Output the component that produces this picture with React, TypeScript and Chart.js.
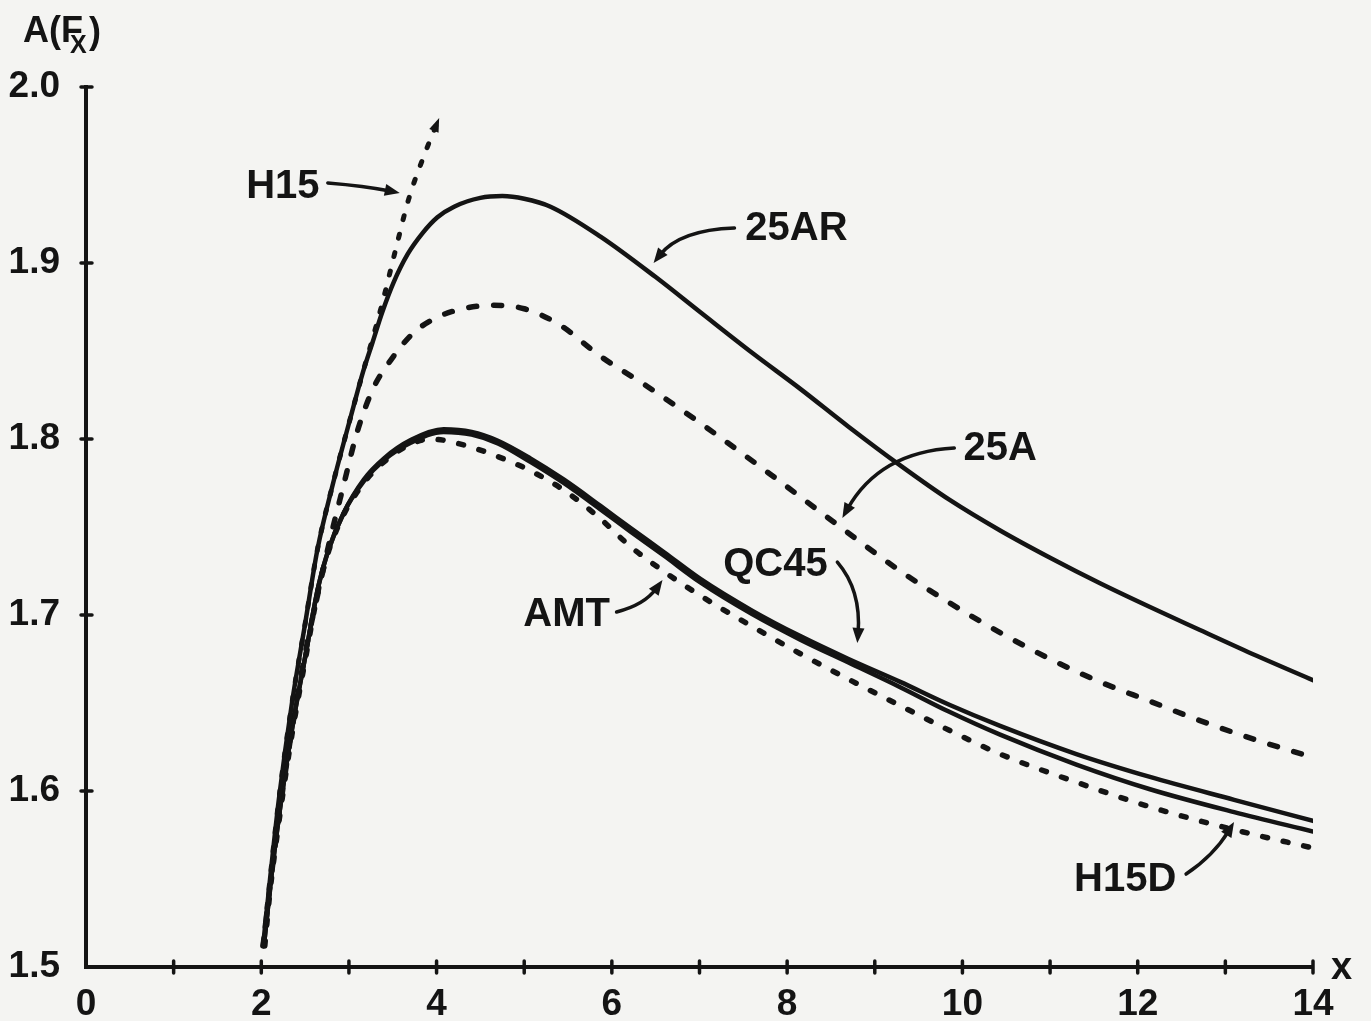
import { useEffect, useRef } from "react";
import { Chart, registerables } from "chart.js";

Chart.register(...registerables);

// ---------- data ----------
const yTickValues = [1.5, 1.6, 1.7, 1.8, 1.9, 2.0];
const xTickLabels = ["0", "2", "4", "6", "8", "10", "12", "14"];

const x25AR = [2.02, 2.1, 2.2, 2.35, 2.5, 2.64, 2.82, 3.02, 3.16, 3.27, 3.38, 3.51, 3.67, 3.84, 4.01, 4.2, 4.5, 4.75, 5.0, 5.3, 5.87, 6.5, 7.01, 7.6, 8.15, 8.7, 9.29, 9.85, 10.43, 11.0, 11.57, 12.14, 12.71, 13.35, 14.0];
const y25AR = [1.512, 1.55, 1.595, 1.65, 1.695, 1.737, 1.775, 1.8125, 1.838, 1.855, 1.872, 1.889, 1.905, 1.917, 1.926, 1.932, 1.937, 1.938, 1.9365, 1.932, 1.915, 1.892, 1.872, 1.849, 1.8285, 1.807, 1.785, 1.7655, 1.748, 1.7325, 1.718, 1.7045, 1.6915, 1.677, 1.663];

const xH15 = [2.02, 2.1, 2.2, 2.35, 2.5, 2.64, 2.82, 3.02, 3.16, 3.27, 3.38, 3.53, 3.68, 3.88, 4.01];
const yH15 = [1.512, 1.55, 1.595, 1.65, 1.695, 1.737, 1.775, 1.8125, 1.838, 1.857, 1.877, 1.907, 1.936, 1.964, 1.98];

const x25A = [2.02, 2.1, 2.2, 2.35, 2.5, 2.65, 2.78, 2.93, 3.1, 3.28, 3.48, 3.73, 4.0, 4.3, 4.65, 5.0, 5.4, 5.87, 6.4, 7.01, 7.78, 8.5, 9.29, 9.85, 10.43, 11.0, 11.57, 12.14, 12.71, 13.35, 14.0];
const y25A = [1.512, 1.546, 1.585, 1.635, 1.678, 1.713, 1.742, 1.772, 1.805, 1.829, 1.845, 1.86, 1.869, 1.874, 1.876, 1.874, 1.865, 1.847, 1.83, 1.809, 1.781, 1.754, 1.725, 1.707, 1.69, 1.675, 1.662, 1.651, 1.64, 1.629, 1.619];

const xLower = [2.03, 2.1, 2.2, 2.35, 2.5, 2.65, 2.76, 2.94, 3.17, 3.4, 3.71, 4.08, 4.4, 4.7, 5.07, 5.45, 5.87, 6.21, 6.6, 7.01, 7.6, 8.15, 8.7, 9.29, 9.85, 10.43, 11.3, 12.14, 13.1, 14.0];
const yQC45 = [1.512, 1.545, 1.585, 1.635, 1.676, 1.716, 1.736, 1.758, 1.777, 1.789, 1.7995, 1.8055, 1.804, 1.799, 1.789, 1.777, 1.762, 1.7495, 1.7355, 1.7205, 1.7025, 1.688, 1.675, 1.662, 1.649, 1.637, 1.621, 1.608, 1.595, 1.583];
const yH15D = [1.512, 1.545, 1.585, 1.635, 1.676, 1.716, 1.736, 1.758, 1.776, 1.788, 1.798, 1.804, 1.8025, 1.7975, 1.787, 1.775, 1.76, 1.7475, 1.7335, 1.7185, 1.7005, 1.686, 1.673, 1.659, 1.645, 1.632, 1.615, 1.601, 1.588, 1.577];

const xAMT = [2.04, 2.1, 2.2, 2.35, 2.5, 2.65, 2.76, 2.94, 3.17, 3.4, 3.7, 3.93, 4.31, 4.7, 5.07, 5.45, 5.84, 6.21, 6.6, 7.01, 7.6, 8.15, 8.7, 9.29, 9.85, 10.43, 11.3, 12.14, 13.1, 14.0];
const yAMT = [1.512, 1.543, 1.582, 1.632, 1.674, 1.714, 1.735, 1.757, 1.775, 1.787, 1.797, 1.8, 1.7966, 1.79, 1.782, 1.771, 1.756, 1.739, 1.7245, 1.711, 1.6935, 1.678, 1.6635, 1.6485, 1.6345, 1.621, 1.605, 1.591, 1.578, 1.5676];

// annotation labels and their arrows, in data units
const noteText = ["H15", "25AR", "25A", "QC45", "AMT", "H15D"];
const noteX = [2.246, 8.106, 10.432, 7.866, 5.484, 11.857];
const noteY = [1.9443, 1.9205, 1.7955, 1.7295, 1.7011, 1.5506];
const arrowStartX = [2.759, 7.399, 9.907, 8.573, 6.054, 12.552];
const arrowStartY = [1.9455, 1.9199, 1.7949, 1.7301, 1.7017, 1.5528];
const arrowCtrlX = [3.181, 6.772, 9.052, 8.847, 6.373, 12.871];
const arrowCtrlY = [1.9438, 1.9188, 1.7926, 1.7142, 1.7057, 1.5636];
const arrowTipX = [3.58, 6.476, 8.63, 8.801, 6.578, 13.099];
const arrowTipY = [1.9398, 1.9, 1.7551, 1.6841, 1.7199, 1.5824];

const INK = "#141414";
const BG = "#f4f4f2";
const FONT = "'Liberation Sans', Arial, Helvetica, sans-serif";

const pts = (xs: number[], ys: number[]) => xs.map((x, i) => ({ x, y: ys[i] }));

function arrowHead(ctx: CanvasRenderingContext2D, fx: number, fy: number, tx: number, ty: number, len = 15, half = 6) {
  const a = Math.atan2(ty - fy, tx - fx);
  ctx.beginPath();
  ctx.moveTo(tx, ty);
  ctx.lineTo(tx - len * Math.cos(a) + half * Math.sin(a), ty - len * Math.sin(a) - half * Math.cos(a));
  ctx.lineTo(tx - len * Math.cos(a) - half * Math.sin(a), ty - len * Math.sin(a) + half * Math.cos(a));
  ctx.closePath();
  ctx.fill();
}

const bgPlugin = {
  id: "bg",
  beforeDraw(chart: any) {
    const { ctx, width, height } = chart;
    ctx.save();
    ctx.fillStyle = BG;
    ctx.fillRect(0, 0, width, height);
    ctx.restore();
  },
};

const decorPlugin = {
  id: "decor",
  afterDraw(chart: any) {
    const { ctx, chartArea } = chart;
    const xs = chart.scales.x;
    const ys = chart.scales.y;
    ctx.save();
    ctx.strokeStyle = INK;
    ctx.fillStyle = INK;
    ctx.lineCap = "round";
    // crossing tick marks
    ctx.lineWidth = 3.5;
    xs.ticks.forEach((t: any) => {
      if (t.value === xs.min) return;
      const p = xs.getPixelForValue(t.value);
      ctx.beginPath();
      ctx.moveTo(p, chartArea.bottom - 6);
      ctx.lineTo(p, chartArea.bottom + 6);
      ctx.stroke();
    });
    ys.ticks.forEach((t: any) => {
      if (Math.abs(t.value - ys.min) < 1e-6) return;
      const p = ys.getPixelForValue(t.value);
      ctx.beginPath();
      ctx.moveTo(chartArea.left - 5, p);
      ctx.lineTo(chartArea.left + 6, p);
      ctx.stroke();
    });

    // annotation arrows
    ctx.lineWidth = 3.5;
    for (let i = 0; i < noteText.length; i++) {
      const sx = xs.getPixelForValue(arrowStartX[i]);
      const sy = ys.getPixelForValue(arrowStartY[i]);
      const cx = xs.getPixelForValue(arrowCtrlX[i]);
      const cy = ys.getPixelForValue(arrowCtrlY[i]);
      const tx = xs.getPixelForValue(arrowTipX[i]);
      const ty = ys.getPixelForValue(arrowTipY[i]);
      const a = Math.atan2(ty - cy, tx - cx);
      ctx.beginPath();
      ctx.moveTo(sx, sy);
      ctx.quadraticCurveTo(cx, cy, tx - 10 * Math.cos(a), ty - 10 * Math.sin(a));
      ctx.stroke();
      arrowHead(ctx, cx, cy, tx, ty);
    }
    // annotation labels
    ctx.font = `bold 40px ${FONT}`;
    ctx.textAlign = "center";
    ctx.textBaseline = "middle";
    for (let i = 0; i < noteText.length; i++) {
      ctx.fillText(noteText[i], xs.getPixelForValue(noteX[i]), ys.getPixelForValue(noteY[i]) + 2);
    }

    // arrowhead at end of H15 curve
    const meta = chart.getDatasetMeta(1);
    const n = meta.data.length;
    const last = meta.data[n - 1];
    const prev = meta.data[n - 2];
    arrowHead(ctx, prev.x, prev.y, last.x + (last.x - prev.x) * 0.15, last.y + (last.y - prev.y) * 0.15, 14, 5);

    // axis titles
    ctx.textAlign = "left";
    ctx.textBaseline = "alphabetic";
    ctx.font = `bold 36px ${FONT}`;
    const ax = chartArea.left - 63;
    ctx.fillText("A(F", ax, 42);
    ctx.font = `bold 25px ${FONT}`;
    ctx.fillText("X", ax + 47, 53);
    ctx.font = `bold 36px ${FONT}`;
    ctx.fillText(")", ax + 66, 43);
    ctx.font = `bold 38px ${FONT}`;
    ctx.textBaseline = "middle";
    ctx.fillText("x", chartArea.right + 18, chartArea.bottom + 2);
    ctx.restore();
  },
};

export default function App() {
  const ref = useRef<HTMLCanvasElement | null>(null);
  useEffect(() => {
    document.body.style.margin = "0";
    document.body.style.background = BG;
    const solid = (label: string, xs: number[], ys: number[], w = 4) => ({
      label,
      data: pts(xs, ys),
      borderColor: INK,
      borderWidth: w,
      pointRadius: 0,
      fill: false,
      cubicInterpolationMode: "monotone" as const,
      borderCapStyle: "round" as const,
    });
    const dashed = (label: string, xs: number[], ys: number[], dash: number[], w = 5) => ({
      ...solid(label, xs, ys, w),
      borderDash: dash,
    });
    const chart = new Chart(ref.current as HTMLCanvasElement, {
      type: "line",
      data: {
        datasets: [
          solid("25AR", x25AR, y25AR, 4.5),
          dashed("H15", xH15, yH15, [4, 15], 5),
          dashed("25A", x25A, y25A, [8, 17], 5.5),
          solid("QC45", xLower, yQC45, 4.5),
          solid("H15D", xLower, yH15D, 4.5),
          dashed("AMT", xAMT, yAMT, [5, 16], 5.5),
        ],
      },
      options: {
        animation: false,
        responsive: true,
        maintainAspectRatio: false,
        layout: { padding: { top: 87, right: 58, left: 0, bottom: 0 } },
        plugins: { legend: { display: false }, tooltip: { enabled: false } },
        scales: {
          x: {
            type: "linear",
            min: 0,
            max: 14,
            grid: { display: false },
            border: { display: true, color: INK, width: 4 },
            ticks: {
              stepSize: 1,
              autoSkip: false,
              maxRotation: 0,
              color: INK,
              padding: 8,
              font: { family: FONT, weight: "bold", size: 37 },
              callback: (v: any) => (Number(v) % 2 === 0 ? xTickLabels[Number(v) / 2] : ""),
            },
            afterFit: (s: any) => {
              s.height = 54;
            },
          },
          y: {
            type: "linear",
            min: yTickValues[0],
            max: yTickValues[yTickValues.length - 1],
            grid: { display: false },
            border: { display: true, color: INK, width: 4 },
            afterBuildTicks: (s: any) => {
              s.ticks = yTickValues.map((v) => ({ value: v }));
            },
            ticks: {
              color: INK,
              padding: 18,
              font: { family: FONT, weight: "bold", size: 37 },
              callback: (v: any) => Number(v).toFixed(1),
            },
            afterFit: (s: any) => {
              s.width = 86;
            },
          },
        },
      },
      plugins: [bgPlugin, decorPlugin],
    });
    return () => chart.destroy();
  }, []);
  return (
    <div style={{ width: 1371, height: 1021, position: "relative" }}>
      <canvas ref={ref} />
    </div>
  );
}
